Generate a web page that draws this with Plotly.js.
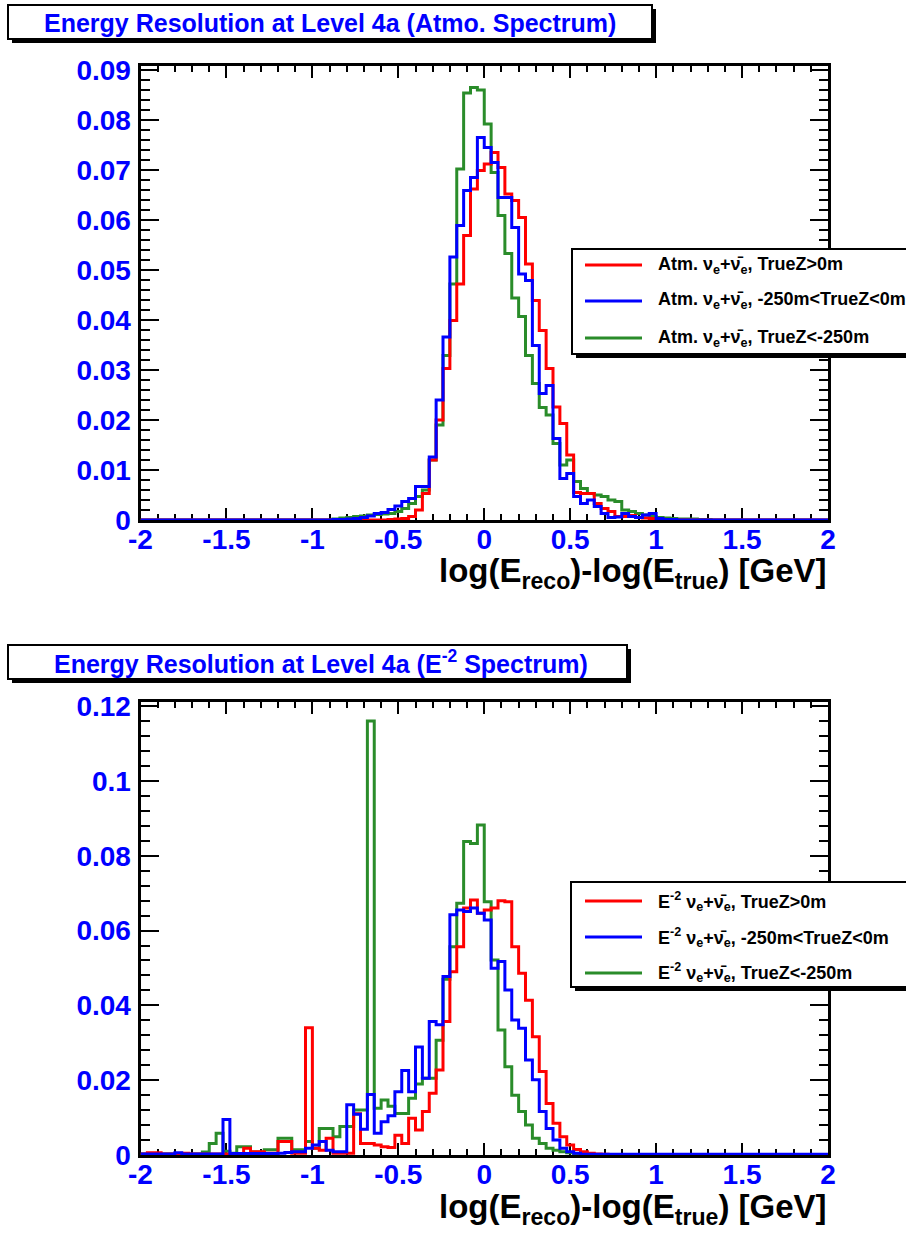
<!DOCTYPE html>
<html>
<head>
<meta charset="utf-8">
<script src="https://cdn.plot.ly/plotly-3.0.1.min.js"></script>
<style>html,body{margin:0;padding:0;background:#fff;}#chart{width:906px;height:1236px;}</style>
</head>
<body>
<div id="chart"></div>
<script>
// ---------------- DATA ----------------
// histogram binning: 100 bins of width 0.04 from -2 to 2
const binLow = -2, binHigh = 2, nBins = 100;

const seriesNamesTop = [
  'Atm. ν<sub>e</sub>+ν̄<sub>e</sub>, TrueZ&gt;0m',
  'Atm. ν<sub>e</sub>+ν̄<sub>e</sub>, -250m&lt;TrueZ&lt;0m',
  'Atm. ν<sub>e</sub>+ν̄<sub>e</sub>, TrueZ&lt;-250m'
];
const seriesNamesBottom = [
  'E<sup>-2</sup> ν<sub>e</sub>+ν̄<sub>e</sub>, TrueZ&gt;0m',
  'E<sup>-2</sup> ν<sub>e</sub>+ν̄<sub>e</sub>, -250m&lt;TrueZ&lt;0m',
  'E<sup>-2</sup> ν<sub>e</sub>+ν̄<sub>e</sub>, TrueZ&lt;-250m'
];
const titleTop = 'Energy Resolution at Level 4a (Atmo. Spectrum)';
const titleBottom = 'Energy Resolution at Level 4a (E<sup>-2</sup> Spectrum)';
const xTitle = 'log(E<sub>reco</sub>)-log(E<sub>true</sub>) [GeV]';

const xTickVals = [-2, -1.5, -1, -0.5, 0, 0.5, 1, 1.5, 2];
const xTickText = ['-2', '-1.5', '-1', '-0.5', '0', '0.5', '1', '1.5', '2'];
const yTickValsTop = [0, 0.01, 0.02, 0.03, 0.04, 0.05, 0.06, 0.07, 0.08, 0.09];
const yTickTextTop = ['0', '0.01', '0.02', '0.03', '0.04', '0.05', '0.06', '0.07', '0.08', '0.09'];
const yTickValsBot = [0, 0.02, 0.04, 0.06, 0.08, 0.1, 0.12];
const yTickTextBot = ['0', '0.02', '0.04', '0.06', '0.08', '0.1', '0.12'];

// Top panel (Atmospheric spectrum)
const topRed = [
  0,0,0,0,0,0,0,0,0,0,
  0,0,0,0,0,0,0,0,0,0,
  0,0,0,0,0,0,0,0,0,0,
  0,0,0,0,0,0,0.0001,0.0002,0.0003,0.0007,
  0.0020,0.0053,0.0120,0.0200,0.0303,0.0399,0.0472,0.0569,0.0662,0.0699,
  0.0712,0.0735,0.0705,0.0652,0.0639,0.0605,0.0512,0.0439,0.0379,0.0303,
  0.0226,0.0193,0.0130,0.0055,0.0053,0.0053,0.0033,0.0023,0.0017,0.0007,
  0.0007,0.0009,0.0005,0.0004,0.0003,0.0002,0,0,0,0,
  0,0,0,0,0,0,0,0,0,0,
  0,0,0,0,0,0,0,0,0,0
];
const topBlue = [
  0,0,0,0,0,0,0,0,0,0,
  0,0,0,0,0,0,0,0,0,0,
  0,0,0,0,0,0,0,0,0.0001,0.0001,
  0.0002,0.0003,0.0005,0.0008,0.0013,0.0015,0.0021,0.0028,0.0037,0.0043,
  0.0067,0.0067,0.0126,0.0240,0.0366,0.0526,0.0589,0.0659,0.0685,0.0765,
  0.0745,0.0715,0.0645,0.0645,0.0585,0.0492,0.0479,0.0349,0.0253,0.0269,
  0.0163,0.0083,0.0093,0.0047,0.0033,0.0040,0.0027,0.0013,0.0005,0.0006,
  0.0013,0.0007,0.0005,0.0010,0.0013,0.0003,0.0001,0.0001,0,0,
  0,0,0,0,0,0,0,0,0,0,
  0,0,0,0,0,0,0,0,0,0
];
const topGreen = [
  0,0,0,0,0,0,0,0,0,0,
  0,0,0,0,0,0,0,0,0,0,
  0,0,0,0,0,0,0,0,0.0002,0.0004,
  0.0005,0.0007,0.0008,0.0010,0.0011,0.0012,0.0013,0.0017,0.0023,0.0033,
  0.0047,0.0060,0.0120,0.0190,0.0329,0.0472,0.0702,0.0854,0.0865,0.0860,
  0.0792,0.0695,0.0609,0.0533,0.0444,0.0407,0.0329,0.0273,0.0225,0.0210,
  0.0153,0.0110,0.0120,0.0077,0.0063,0.0053,0.0050,0.0047,0.0040,0.0037,
  0.0020,0.0017,0.0013,0.0010,0.0007,0.0005,0.0004,0.0003,0.0002,0.0002,
  0.0002,0.0001,0.0001,0,0,0,0,0,0,0,
  0,0,0,0,0,0,0,0,0,0
];

// Bottom panel (E^-2 spectrum)
const botRed = [
  0.0003,0.0006,0.0006,0.0003,0.0003,0.0003,0.0005,0.0003,0.0003,0.0003,
  0.0003,0.0003,0.0003,0.0003,0.0003,0.0018,0.0009,0.0009,0.0005,0.0005,
  0.0036,0.0036,0.0005,0.0005,0.0340,0.0018,0.0013,0.0045,0.0005,0.0005,
  0.0005,0.0110,0.0031,0.0031,0.0027,0.0022,0.0020,0.0053,0.0031,0.0098,
  0.0067,0.0116,0.0165,0.0227,0.0357,0.0490,0.0557,0.0660,0.0682,0.0646,
  0.0655,0.0660,0.0680,0.0677,0.0557,0.0486,0.0414,0.0316,0.0223,0.0138,
  0.0085,0.0049,0.0027,0.0015,0.0009,0.0005,0.0003,0.0002,0.0001,0.0001,
  0.0001,0.0001,0.0001,0.0001,0.0001,0.0001,0.0001,0.0001,0.0001,0.0001,
  0,0,0,0,0,0,0,0,0,0,
  0,0,0,0,0,0,0,0,0,0
];
const botBlue = [
  0.0003,0.0003,0.0003,0.0003,0.0003,0.0006,0.0003,0.0003,0.0003,0.0003,
  0.0003,0.0003,0.0095,0.0004,0.0004,0.0004,0.0004,0.0004,0.0004,0.0004,
  0.0005,0.0007,0.0009,0.0009,0.0018,0.0027,0.0036,0.0013,0.0009,0.0009,
  0.0134,0.0109,0.0069,0.0162,0.0058,0.0089,0.0105,0.0169,0.0226,0.0169,
  0.0289,0.0205,0.0357,0.0348,0.0477,0.0642,0.0655,0.0651,0.0660,0.0646,
  0.0628,0.0499,0.0517,0.0441,0.0361,0.0339,0.0254,0.0201,0.0116,0.0071,
  0.0040,0.0018,0.0009,0.0005,0.0002,0.0002,0.0002,0.0002,0.0002,0.0002,
  0.0002,0.0002,0.0002,0.0002,0.0002,0.0002,0.0002,0.0002,0.0002,0.0002,
  0.0002,0.0002,0.0002,0.0002,0.0002,0.0002,0.0002,0.0002,0.0002,0.0002,
  0.0002,0.0002,0.0002,0.0002,0.0002,0.0002,0.0002,0.0002,0.0002,0.0002
];
const botGreen = [
  0.0003,0.0003,0.0003,0.0003,0.0003,0.0003,0.0003,0.0003,0.0003,0.0008,
  0.0031,0.0058,0.0010,0.0005,0.0022,0.0022,0.0008,0.0008,0.0014,0.0014,
  0.0045,0.0045,0.0014,0.0014,0.0036,0.0018,0.0071,0.0071,0.0049,0.0076,
  0.0076,0.0120,0.0120,0.1160,0.0125,0.0147,0.0130,0.0111,0.0111,0.0152,
  0.0190,0.0205,0.0205,0.0307,0.0470,0.0557,0.0673,0.0838,0.0833,0.0882,
  0.0677,0.0521,0.0334,0.0236,0.0160,0.0116,0.0080,0.0045,0.0031,0.0018,
  0.0013,0.0009,0.0006,0.0003,0.0001,0.0001,0.0001,0.0001,0.0001,0.0001,
  0.0001,0.0001,0.0001,0.0001,0.0001,0.0001,0.0001,0.0001,0.0001,0.0001,
  0,0,0,0,0,0,0,0,0,0,
  0,0,0,0,0,0,0,0,0,0
];

// ---------------- STYLE / LAYOUT ----------------
const W = 906, H = 1236;
const px = x => x / W;
const py = y => 1 - y / H;
const FONT = 'Liberation Sans, Arial, Helvetica, sans-serif';
const RED = '#ff0000', BLUE = '#0000ff', GREEN = '#2a8c2a';

const binW = (binHigh - binLow) / nBins;
const edges = Array.from({length: nBins + 1}, (_, i) => binLow + i * binW);
function stepY(vals) { return vals.concat([vals[vals.length - 1]]); }

function hist(vals, color, xa, ya, name) {
  return {
    type: 'scatter', mode: 'lines', x: edges, y: stepY(vals), name: name,
    xaxis: xa, yaxis: ya, line: {shape: 'hv', width: 3, color: color},
    hoverinfo: 'x+y', showlegend: false
  };
}

const data = [
  hist(topGreen, GREEN, 'x', 'y', seriesNamesTop[2]),
  hist(topRed, RED, 'x', 'y', seriesNamesTop[0]),
  hist(topBlue, BLUE, 'x', 'y', seriesNamesTop[1]),
  hist(botGreen, GREEN, 'x2', 'y2', seriesNamesBottom[2]),
  hist(botRed, RED, 'x2', 'y2', seriesNamesBottom[0]),
  hist(botBlue, BLUE, 'x2', 'y2', seriesNamesBottom[1])
];

const tickFont = {family: FONT, size: 28, color: '#0000ff', weight: 'bold'};

function xAxis(anchor) {
  return {
    domain: [px(140.5), px(828)], range: [binLow, binHigh], anchor: anchor,
    tickmode: 'array', tickvals: xTickVals, ticktext: xTickText,
    ticks: 'inside', ticklen: 12, tickwidth: 2, tickcolor: '#000',
    minor: {tickmode: 'linear', tick0: -2, dtick: 0.1, ticks: 'inside', ticklen: 6, tickwidth: 2, tickcolor: '#000', showgrid: false},
    showline: true, linewidth: 3, linecolor: '#000', mirror: 'ticks',
    showgrid: false, zeroline: false, tickfont: tickFont, ticklabelstandoff: -8,
    layer: 'below traces', fixedrange: true
  };
}
function yAxis(anchor, top, bottom, rmax, vals, text, minorDt) {
  return {
    domain: [py(bottom), py(top)], range: [0, rmax], anchor: anchor,
    tickmode: 'array', tickvals: vals, ticktext: text,
    ticks: 'inside', ticklen: 18, tickwidth: 2, tickcolor: '#000',
    minor: {tickmode: 'linear', tick0: 0, dtick: minorDt, ticks: 'inside', ticklen: 9, tickwidth: 2, tickcolor: '#000', showgrid: false},
    showline: true, linewidth: 3, linecolor: '#000', mirror: 'ticks',
    showgrid: false, zeroline: false, tickfont: tickFont, ticklabelstandoff: 1,
    layer: 'below traces', fixedrange: true
  };
}

function boxWithShadow(x0, y0, x1, y1, off) {
  return [
    {type: 'rect', xref: 'paper', yref: 'paper', x0: px(x0 + off), x1: px(x1 + off), y0: py(y1 + off), y1: py(y0 + off),
     fillcolor: '#000', line: {width: 0}, layer: 'above'},
    {type: 'rect', xref: 'paper', yref: 'paper', x0: px(x0), x1: px(x1), y0: py(y1), y1: py(y0),
     fillcolor: '#fff', line: {width: 2, color: '#000'}, layer: 'above'}
  ];
}
function legendLine(y, color) {
  return {type: 'line', xref: 'paper', yref: 'paper', x0: px(585), x1: px(642), y0: py(y), y1: py(y),
          line: {color: color, width: 3}, layer: 'above'};
}
function legendText(y, text) {
  return {xref: 'paper', yref: 'paper', x: px(656), y: py(y), xanchor: 'left', yanchor: 'middle',
          text: text, showarrow: false, font: {family: FONT, size: 18, color: '#000', weight: 'bold'}};
}

const shapes = []
  .concat(boxWithShadow(8, 5, 652, 39, 4))
  .concat(boxWithShadow(8, 645, 627, 679, 4))
  .concat(boxWithShadow(572, 249, 912, 354, 4))
  .concat(boxWithShadow(571, 882, 912, 987, 4))
  .concat([legendLine(265, RED), legendLine(301, BLUE), legendLine(338, GREEN),
           legendLine(901, RED), legendLine(937, BLUE), legendLine(973, GREEN)]);

const annotations = [
  {xref: 'paper', yref: 'paper', x: px(330), y: py(23), xanchor: 'center', yanchor: 'middle', showarrow: false,
   text: titleTop, font: {family: FONT, size: 25, color: '#0000ff', weight: 'bold'}},
  {xref: 'paper', yref: 'paper', x: px(321), y: py(662), xanchor: 'center', yanchor: 'middle', showarrow: false,
   text: titleBottom, font: {family: FONT, size: 25, color: '#0000ff', weight: 'bold'}},
  {xref: 'paper', yref: 'paper', x: px(829), y: py(550), xanchor: 'right', yanchor: 'top', showarrow: false,
   text: xTitle, font: {family: FONT, size: 33, color: '#000', weight: 'bold'}},
  {xref: 'paper', yref: 'paper', x: px(829), y: py(1186), xanchor: 'right', yanchor: 'top', showarrow: false,
   text: xTitle, font: {family: FONT, size: 33, color: '#000', weight: 'bold'}},
  legendText(265, seriesNamesTop[0]), legendText(301, seriesNamesTop[1]), legendText(338, seriesNamesTop[2]),
  legendText(901, seriesNamesBottom[0]), legendText(937, seriesNamesBottom[1]), legendText(973, seriesNamesBottom[2])
];

const layout = {
  width: W, height: H, margin: {l: 0, r: 0, t: 0, b: 0, pad: 0},
  paper_bgcolor: '#fff', plot_bgcolor: '#fff', showlegend: false,
  font: {family: FONT},
  xaxis: xAxis('y'),
  yaxis: yAxis('x', 66, 520, 0.0908, yTickValsTop, yTickTextTop, 0.002),
  xaxis2: xAxis('y2'),
  yaxis2: yAxis('x2', 702, 1155, 0.1211, yTickValsBot, yTickTextBot, 0.004),
  shapes: shapes, annotations: annotations
};

Plotly.newPlot('chart', data, layout, {displayModeBar: false, staticPlot: true});
</script>
</body>
</html>
